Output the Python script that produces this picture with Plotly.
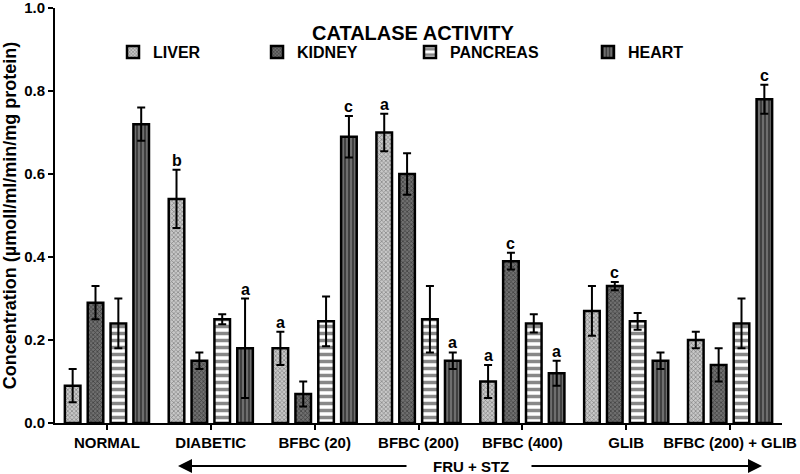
import plotly.graph_objects as go

groups = ["NORMAL", "DIABETIC", "BFBC (20)", "BFBC (200)", "BFBC (400)", "GLIB", "BFBC (200) + GLIB"]
series_names = ["LIVER", "KIDNEY", "PANCREAS", "HEART"]

liver = [0.09, 0.54, 0.18, 0.70, 0.10, 0.27, 0.20]
liver_err = [0.04, 0.07, 0.04, 0.045, 0.04, 0.06, 0.02]
kidney = [0.29, 0.15, 0.07, 0.60, 0.39, 0.33, 0.14]
kidney_err = [0.04, 0.02, 0.03, 0.05, 0.02, 0.01, 0.04]
pancreas = [0.24, 0.25, 0.245, 0.25, 0.24, 0.245, 0.24]
pancreas_err = [0.06, 0.012, 0.06, 0.08, 0.022, 0.02, 0.06]
heart = [0.72, 0.18, 0.69, 0.15, 0.12, 0.15, 0.78]
heart_err = [0.04, 0.12, 0.05, 0.02, 0.03, 0.02, 0.035]

# significance letters: (group index, series index, letter)
letters = [(1, 0, "b"), (1, 3, "a"), (2, 0, "a"), (2, 3, "c"), (3, 0, "a"), (3, 3, "a"),
           (4, 0, "a"), (4, 1, "c"), (4, 3, "a"), (5, 1, "c"), (6, 3, "c")]

y_ticks = [0.0, 0.2, 0.4, 0.6, 0.8, 1.0]

values = [liver, kidney, pancreas, heart]
errors = [liver_err, kidney_err, pancreas_err, heart_err]

FONT = "Liberation Sans, Arial"

patterns = [
    dict(shape="x", fgcolor="#3a3a3a", bgcolor="#c8c8c8", size=3, solidity=0.4),
    dict(shape="x", fgcolor="#111111", bgcolor="#707070", size=3, solidity=0.45),
    dict(shape="-", fgcolor="#111111", bgcolor="#ffffff", size=7, solidity=0.5),
    dict(shape="|", fgcolor="#111111", bgcolor="#6e6e6e", size=4, solidity=0.5),
]

bar_w = 0.15
centers = [-0.33, -0.11, 0.11, 0.33]
xs = list(range(len(groups)))
legend_ids = ["legend", "legend2", "legend3", "legend4"]
legend_x = [0.0798, 0.2779, 0.4883, 0.7331]

fig = go.Figure()
for k in range(4):
    fig.add_trace(go.Bar(
        x=xs, y=values[k], name=series_names[k], legend=legend_ids[k],
        width=bar_w, offset=centers[k] - bar_w / 2,
        marker=dict(color="white", line=dict(color="black", width=2.5), pattern=patterns[k]),
        error_y=dict(type="data", array=errors[k], visible=True, color="black", thickness=2, width=4),
    ))

annotations = []
for gi, si, letter in letters:
    annotations.append(dict(
        x=gi + centers[si], y=values[si][gi] + errors[si][gi], xref="x", yref="y",
        text=letter, showarrow=False, yanchor="bottom", yshift=-1,
        font=dict(family=FONT, size=16, color="black", weight="bold"),
    ))

annotations.append(dict(
    x=(413 - 55) / 727, y=(423 - 20) / 415, xref="paper", yref="paper", text="CATALASE ACTIVITY",
    showarrow=False, font=dict(family=FONT, size=20, color="black", weight="bold"),
))
# FRU + STZ double arrow
annotations.append(dict(
    x=(471 - 55) / 727, y=(423 - 466) / 415, xref="paper", yref="paper", text="FRU + STZ", showarrow=False,
    yanchor="middle", xanchor="center",
    font=dict(family=FONT, size=15, color="black", weight="bold"),
))
annotations.append(dict(
    x=(178 - 55) / 727, y=(423 - 466) / 415, xref="paper", yref="paper", text="", showarrow=True,
    ax=230, ay=0, arrowhead=2, arrowsize=1.4, arrowwidth=2, arrowcolor="black",
))
annotations.append(dict(
    x=(762 - 55) / 727, y=(423 - 466) / 415, xref="paper", yref="paper", text="", showarrow=True,
    ax=-232, ay=0, arrowhead=2, arrowsize=1.4, arrowwidth=2, arrowcolor="black",
))

legend_common = dict(
    orientation="h", y=(423 - 52) / 415, xanchor="left", yanchor="middle",
    font=dict(family=FONT, size=16, color="black", weight="bold"),
    bgcolor="rgba(0,0,0,0)",
)

fig.update_layout(
    width=800, height=474,
    margin=dict(l=55, r=18, t=8, b=51),
    paper_bgcolor="white", plot_bgcolor="white",
    barmode="overlay",
    showlegend=True,
    legend=dict(x=legend_x[0], **legend_common),
    legend2=dict(x=legend_x[1], **legend_common),
    legend3=dict(x=legend_x[2], **legend_common),
    legend4=dict(x=legend_x[3], **legend_common),
    annotations=annotations,
    font=dict(family=FONT, color="black"),
)
fig.update_xaxes(
    range=[-0.5, 6.5], tickmode="array", tickvals=xs, ticktext=groups, automargin=False,
    ticklabeloverflow="allow",
    showline=True, linecolor="black", linewidth=2, ticks="outside", ticklen=5, tickwidth=2,
    tickcolor="black", showgrid=False, zeroline=False,
    tickfont=dict(family=FONT, size=15, color="black", weight="bold"),
)
fig.update_yaxes(
    range=[0, 1.0], tickmode="array", tickvals=y_ticks, ticktext=[f"{v:.1f}" for v in y_ticks],
    automargin=False, ticklabeloverflow="allow",
    showline=True, linecolor="black", linewidth=2, ticks="outside", ticklen=5, tickwidth=2,
    tickcolor="black", showgrid=False, zeroline=False,
    tickfont=dict(family=FONT, size=15, color="black", weight="bold"),
    title=dict(text="Concentration (µmoll/ml/min/mg protein)", standoff=4,
               font=dict(family=FONT, size=18, color="black", weight="bold")),
)

fig.write_html("out.html", config={"displayModeBar": False},
               post_script="document.body.style.margin='0px';")
